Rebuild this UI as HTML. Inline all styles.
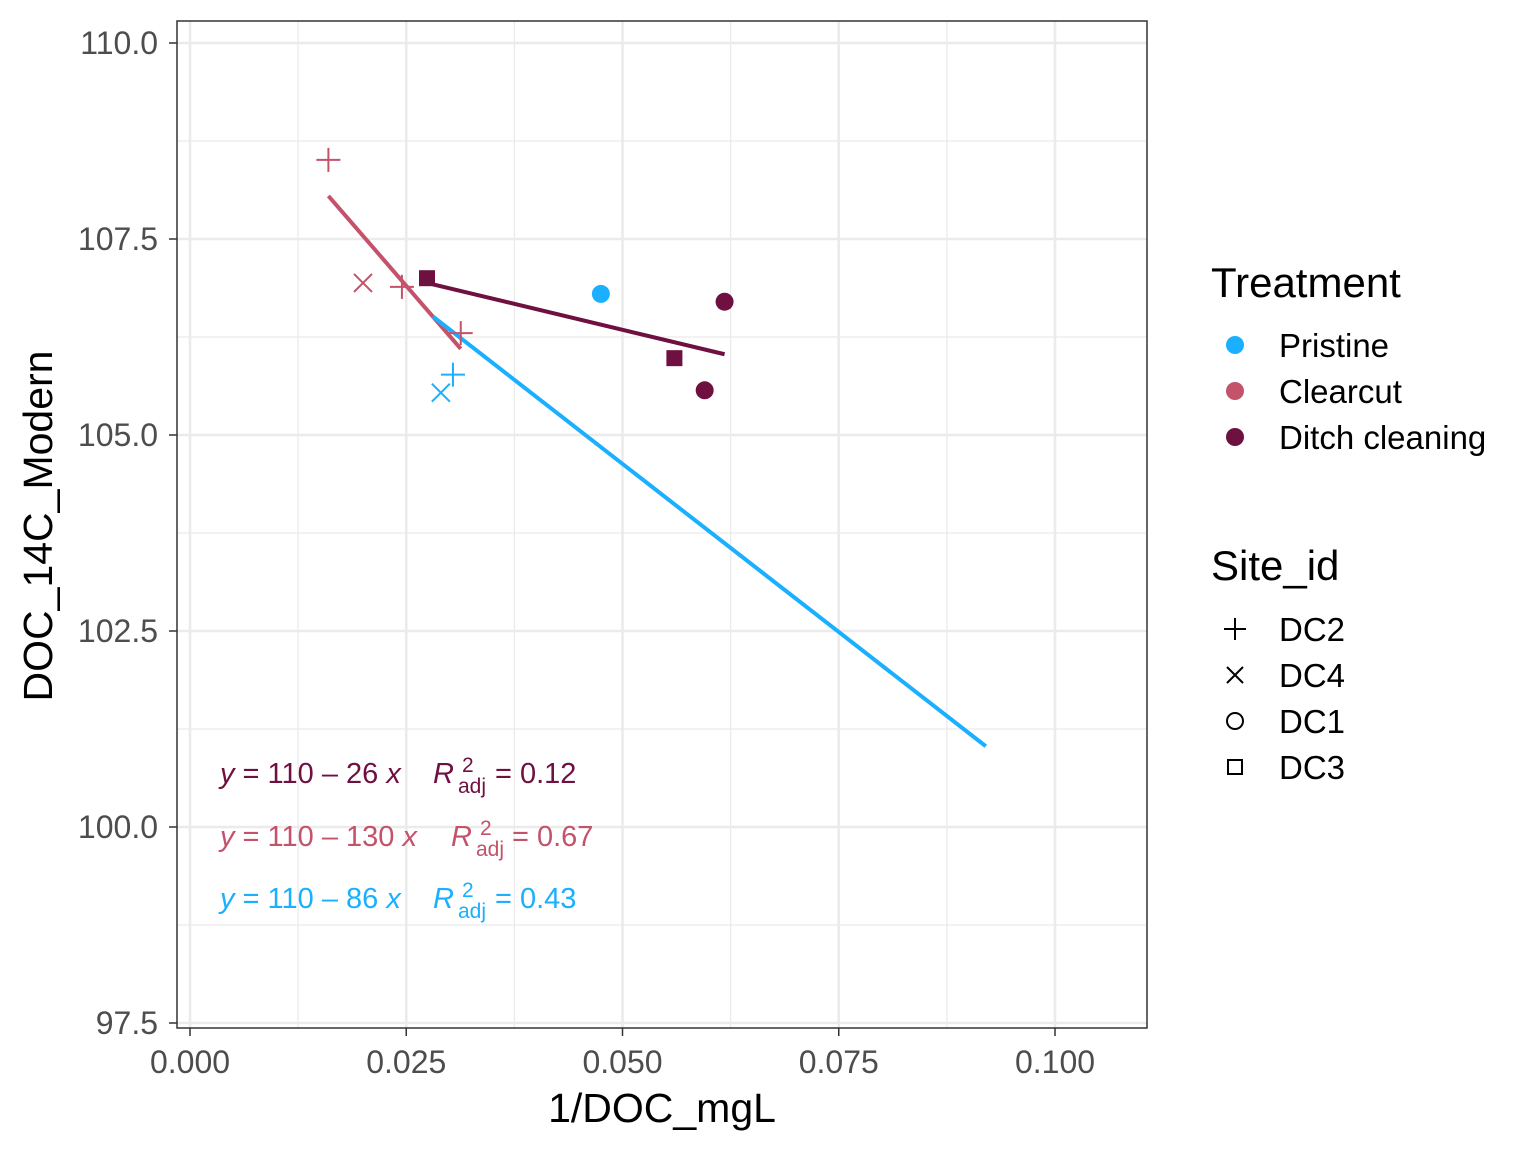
<!DOCTYPE html>
<html><head><meta charset="utf-8"><style>
body{margin:0;background:#fff;}
svg text{font-family:"Liberation Sans",Arial,sans-serif;}
</style></head><body>
<svg width="1536" height="1152" viewBox="0 0 1536 1152">
<g id="grid"></g>
<g id="marks"></g>
<rect x="177" y="21" width="970" height="1007" fill="none" stroke="#333" stroke-width="1.5"/>
<g id="axes"></g>
<text x="662" y="1122" font-size="41" text-anchor="middle" fill="#000">1/DOC_mgL</text>
<text transform="translate(52,526) rotate(-90)" font-size="41" text-anchor="middle" fill="#000">DOC_14C_Modern</text>
<g font-size="29">
<g fill="#6E1040">
<text x="220" y="783"><tspan font-style="italic">y</tspan> = 110 – 26 <tspan font-style="italic">x</tspan></text>
<text x="433" y="783" font-style="italic">R</text>
<text x="458" y="793" font-size="21">adj</text>
<text x="462" y="772" font-size="21">2</text>
<text x="495" y="783">= 0.12</text>
</g>
<g fill="#C4526A">
<text x="220" y="846"><tspan font-style="italic">y</tspan> = 110 – 130 <tspan font-style="italic">x</tspan></text>
<text x="451" y="846" font-style="italic">R</text>
<text x="476" y="856" font-size="21">adj</text>
<text x="480" y="835" font-size="21">2</text>
<text x="512" y="846">= 0.67</text>
</g>
<g fill="#1AB0FF">
<text x="220" y="908"><tspan font-style="italic">y</tspan> = 110 – 86 <tspan font-style="italic">x</tspan></text>
<text x="433" y="908" font-style="italic">R</text>
<text x="458" y="918" font-size="21">adj</text>
<text x="462" y="897" font-size="21">2</text>
<text x="495" y="908">= 0.43</text>
</g>
</g>
<g>
<text x="1211" y="297" font-size="42">Treatment</text>
<circle cx="1235" cy="345" r="9" fill="#1AB0FF"/>
<text x="1279" y="357" font-size="33">Pristine</text>
<circle cx="1235" cy="391" r="9" fill="#C4526A"/>
<text x="1279" y="403" font-size="33">Clearcut</text>
<circle cx="1235" cy="437" r="9" fill="#6E1040"/>
<text x="1279" y="449" font-size="33">Ditch cleaning</text>
</g>
<g stroke="#000" stroke-width="2" fill="none">
<text x="1211" y="580" font-size="42" fill="#000" stroke="none">Site_id</text>
<path d="M1224 629h22M1235 618v22"/>
<text x="1279" y="641" font-size="33" fill="#000" stroke="none">DC2</text>
<path d="M1227 667l16 16M1243 667l-16 16"/>
<text x="1279" y="687" font-size="33" fill="#000" stroke="none">DC4</text>
<circle cx="1235" cy="721" r="8"/>
<text x="1279" y="733" font-size="33" fill="#000" stroke="none">DC1</text>
<rect x="1228" y="760" width="14" height="14"/>
<text x="1279" y="779" font-size="33" fill="#000" stroke="none">DC3</text>
</g>
</svg>
<script>
const xTicks=[0,0.025,0.05,0.075,0.1];
const xTickLabels=["0.000","0.025","0.050","0.075","0.100"];
const yTicks=[97.5,100,102.5,105,107.5,110];
const yTickLabels=["97.5","100.0","102.5","105.0","107.5","110.0"];
const ptX=[0.0475,0.0304,0.029,0.016,0.020,0.0245,0.0313,0.0274,0.056,0.0618,0.0595];
const ptY=[106.80,105.77,105.54,108.51,106.94,106.89,106.30,107.0,105.98,106.70,105.57];
const ptGroup=["Pristine","Pristine","Pristine","Clearcut","Clearcut","Clearcut","Clearcut","Ditch","Ditch","Ditch","Ditch"];
const ptSite=["DC1","DC2","DC4","DC2","DC4","DC2","DC2","DC3","DC3","DC1","DC1"];
const lineGroup=["Ditch","Clearcut","Pristine"];
const lineX0=[0.0274,0.016,0.0281];
const lineX1=[0.0618,0.0313,0.092];
const lineY0=[106.94,108.05,106.51];
const lineY1=[106.03,106.10,101.03];
const colors={Pristine:"#1AB0FF",Clearcut:"#C4526A",Ditch:"#6E1040"};
const sx=v=>190+v*8650, sy=v=>43+(110-v)*78.4;
const NS="http://www.w3.org/2000/svg";
function mk(tag,attrs,parent){const e=document.createElementNS(NS,tag);for(const k in attrs)e.setAttribute(k,attrs[k]);parent.appendChild(e);return e;}
const grid=document.getElementById('grid'),marks=document.getElementById('marks'),axes=document.getElementById('axes');
mk('rect',{x:177,y:21,width:970,height:1007,fill:'#fff'},grid);
for(let i=0;i<xTicks.length;i++){
  const x=sx(xTicks[i]);
  const g=mk('line',{x1:x,x2:x,y1:21,y2:1028,stroke:'#ebebeb','stroke-width':2.6},grid);
  
  
  if(i<xTicks.length-1){const m=sx((xTicks[i]+xTicks[i+1])/2);mk('line',{x1:m,x2:m,y1:21,y2:1028,stroke:'#ebebeb','stroke-width':1.3},grid);}
  mk('line',{x1:x,x2:x,y1:1028,y2:1036,stroke:'#333','stroke-width':1.5},axes);
  const t=mk('text',{x:x,y:1073,'font-size':32,'text-anchor':'middle',fill:'#4d4d4d'},axes);
  t.textContent=xTickLabels[i];
  
  
}
for(let i=0;i<yTicks.length;i++){
  const y=sy(yTicks[i]);
  const g=mk('line',{x1:177,x2:1147,y1:y,y2:y,stroke:'#ebebeb','stroke-width':2.6},grid);
  
  
  if(i<yTicks.length-1){const m=sy((yTicks[i]+yTicks[i+1])/2);mk('line',{x1:177,x2:1147,y1:m,y2:m,stroke:'#ebebeb','stroke-width':1.3},grid);}
  mk('line',{x1:169,x2:177,y1:y,y2:y,stroke:'#333','stroke-width':1.5},axes);
  const t=mk('text',{x:158,y:y+11,'font-size':32,'text-anchor':'end',fill:'#4d4d4d'},axes);
  t.textContent=yTickLabels[i];
  
  
}
for(let i=0;i<lineGroup.length;i++){
  const l=mk('line',{x1:sx(lineX0[i]),y1:sy(lineY0[i]),x2:sx(lineX1[i]),y2:sy(lineY1[i]),stroke:colors[lineGroup[i]],'stroke-width':4},marks);
  
  
}
for(let i=0;i<ptX.length;i++){
  const x=sx(ptX[i]),y=sy(ptY[i]),c=colors[ptGroup[i]];let e;
  if(ptSite[i]==="DC1")e=mk('circle',{cx:x,cy:y,r:9,fill:c},marks);
  else if(ptSite[i]==="DC3")e=mk('rect',{x:x-8,y:y-8,width:16,height:16,fill:c},marks);
  else if(ptSite[i]==="DC2")e=mk('path',{d:`M${x-12} ${y}h24M${x} ${y-12}v24`,stroke:c,'stroke-width':2,fill:'none'},marks);
  else e=mk('path',{d:`M${x-9} ${y-9}l18 18M${x+9} ${y-9}l-18 18`,stroke:c,'stroke-width':2,fill:'none'},marks);
  
  
}
</script>
</body></html>
